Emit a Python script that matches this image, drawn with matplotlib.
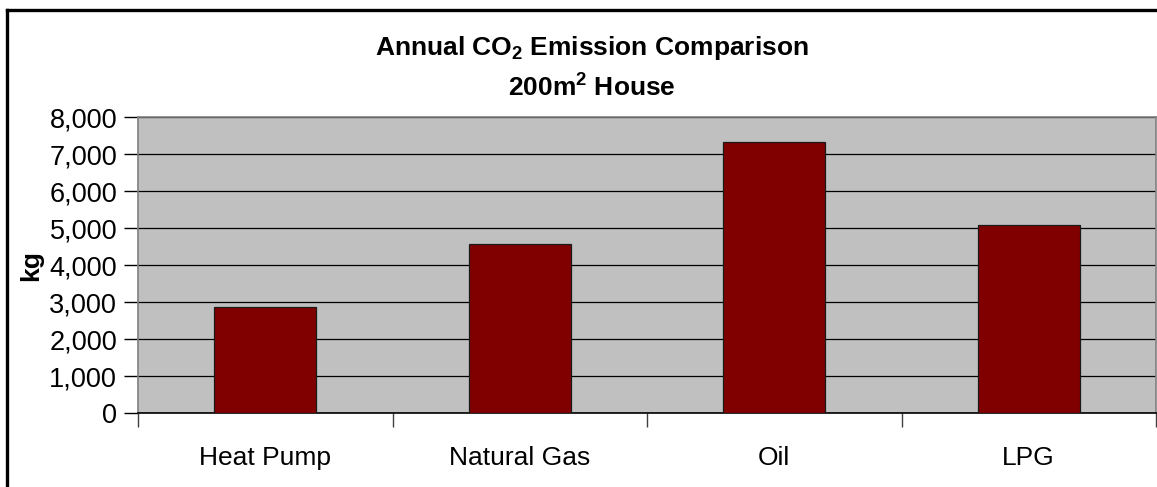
import matplotlib
matplotlib.use("Agg")
import matplotlib.pyplot as plt
from matplotlib.lines import Line2D
from matplotlib.ticker import FuncFormatter, FixedLocator

plt.rcParams['font.family'] = ['Liberation Sans', 'DejaVu Sans']
plt.rcParams['mathtext.fontset'] = 'custom'
plt.rcParams['mathtext.rm'] = 'Liberation Sans:bold'
plt.rcParams['mathtext.bf'] = 'Liberation Sans:bold'
plt.rcParams['mathtext.default'] = 'bf'

categories = ["Heat Pump", "Natural Gas", "Oil", "LPG"]
emissions_kg = [2880, 4570, 7330, 5100]
y_ticks = [0, 1000, 2000, 3000, 4000, 5000, 6000, 7000, 8000]

W, H = 1157, 487
fig = plt.figure(figsize=(W / 100, H / 100), dpi=100)
fig.patch.set_facecolor('white')

left, right, top, bottom = 138, 1156, 117.5, 413
ax = fig.add_axes([left / W, (H - bottom) / H, (right - left) / W, (bottom - top) / H])
ax.set_facecolor('#C0C0C0')

x = list(range(len(categories)))
ax.bar(x, emissions_kg, width=0.4, color='#800000', edgecolor='#1a1a1a', linewidth=0.9, zorder=3)

ax.set_xlim(-0.5, len(categories) - 0.5)
ax.set_ylim(y_ticks[0], y_ticks[-1])
ax.set_yticks(y_ticks)
ax.yaxis.set_major_formatter(FuncFormatter(lambda v, p: f"{int(v):,}"))
ax.grid(axis='y', color='black', linewidth=0.9, zorder=1)
ax.set_axisbelow(True)

ax.set_xticks(x)
ax.set_xticklabels(categories)
ax.xaxis.set_minor_locator(FixedLocator([i - 0.5 for i in range(len(categories) + 1)]))
ax.tick_params(axis='x', which='major', length=0, pad=24, labelsize=19, colors='black')
ax.tick_params(axis='x', which='minor', length=10, width=1, color='#404040', direction='out')
ax.tick_params(axis='y', which='major', length=10, width=1, color='black', pad=5,
               labelsize=19.5, direction='out')

for s in ['top', 'right', 'left']:
    ax.spines[s].set_color('#808080')
    ax.spines[s].set_linewidth(1.2)
ax.spines['bottom'].set_color('black')
ax.spines['bottom'].set_linewidth(1.2)

fig.text(31.5 / W, 1 - 266 / H, "kg", rotation=90, ha='center', va='center',
         fontsize=19, fontweight='bold')

fig.text(592 / W, 1 - 55 / H, "Annual CO$_2$ Emission Comparison", ha='center', va='baseline',
         fontsize=19, fontweight='bold')
fig.text(592 / W, 1 - 96.7 / H, "200m$^2$ House", ha='center', va='baseline',
         fontsize=19, fontweight='bold')

# outer chart border
fig.add_artist(Line2D([6.5 / W, 6.5 / W], [0, 1 - 10 / H], color='black', linewidth=2.4,
                      transform=fig.transFigure, solid_capstyle='projecting'))
fig.add_artist(Line2D([6.5 / W, 1], [1 - 10 / H, 1 - 10 / H], color='black', linewidth=2.4,
                      transform=fig.transFigure, solid_capstyle='projecting'))

fig.savefig("out.png", dpi=100)
